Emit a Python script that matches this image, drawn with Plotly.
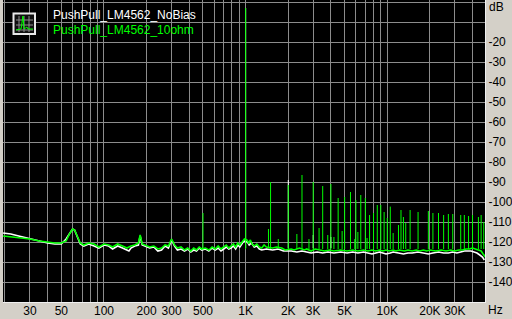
import plotly.graph_objects as go

# ---------------- data ----------------
green_floor_f = [19.4, 22, 25, 30, 35, 40, 45, 50, 54, 57, 60, 62, 65, 68, 72, 78, 85, 92, 100, 108, 115, 125, 135, 145,
                 155, 165, 175, 180, 186, 195, 210, 225, 240, 255, 270, 285, 300, 315, 330, 350, 370, 390, 410, 430,
                 450, 470, 490, 520, 550, 580, 610, 640, 670, 700, 730, 760, 790, 820, 850, 880, 910, 940, 960, 980,
                 1020, 1050, 1080, 1110, 1150, 1200, 1250, 1300, 1350, 1400, 1550, 1650, 1800, 1900, 2100, 2200,
                 2400, 2600, 2700, 2900, 3100, 3300, 3600, 3900, 4200, 4700, 5200, 5700, 6200, 6800, 7300, 7800,
                 8300, 8800, 9300, 9800, 10300, 11000, 11500, 12200, 13200, 14000, 15000, 16000, 17000, 18000,
                 19000, 20000, 22000, 24000, 26000, 28000, 30000, 32000, 34000, 36000, 38000, 40000, 42000, 44000,
                 46000, 47500, 49000, 50000]
green_floor_db = [-117, -117.5, -118, -118.5, -119.5, -120, -120.5, -120.5, -119.5, -116, -113.5, -114, -117.5, -120.5,
                  -121.5, -120.5, -121, -122.5, -121, -121.5, -122.5, -121, -122, -123, -122, -121.5, -120.5, -116.5,
                  -121, -121.5, -122.5, -122, -123.5, -123, -121.5, -122, -118.5, -121.5, -123, -122.5, -124, -123,
                  -124.5, -123, -124, -122.5, -123.5, -123, -124, -122.5, -123.5, -122, -123.5, -122.5, -121.5, -123,
                  -122, -121, -122.5, -120.5, -121.5, -120, -119, -118.5, -119, -120.5, -119, -121, -122, -121,
                  -122.5, -123, -121.5, -122.5, -123, -122.5, -123, -124, -123.5, -124, -123, -124, -123.5, -124.5,
                  -123.5, -124, -124.5, -124, -124.5, -124, -124.5, -124, -124.5, -124, -124.5, -124, -124.5, -124,
                  -124.5, -124, -124.5, -124, -124.5, -124, -124.5, -124, -124.5, -124, -124.5, -124, -124.5, -124,
                  -124.5, -124, -124.5, -124, -124.5, -124, -124, -123.5, -123.5, -123, -123.5, -124, -124.5, -126,
                  -127.5, -128]

white_floor_f = [19.4, 22, 25, 30, 35, 40, 45, 50, 54, 57, 60, 62, 65, 68, 72, 78, 85, 92, 100, 108, 115, 125, 135, 145,
                 150, 155, 165, 175, 180, 186, 195, 210, 225, 240, 255, 270, 285, 300, 315, 330, 350, 370, 390, 410,
                 430, 450, 470, 490, 520, 550, 580, 610, 640, 670, 700, 730, 760, 790, 820, 850, 880, 910, 940, 970,
                 1030, 1060, 1100, 1150, 1200, 1250, 1300, 1400, 1550, 1700, 1850, 2100, 2300, 2500, 2700, 2900,
                 3200, 3500, 3800, 4200, 4700, 5200, 5700, 6200, 6800, 7300, 7800, 8300, 8800, 9300, 9800, 10500,
                 11000, 12000, 13000, 14000, 15000, 16500, 18000, 19500, 21000, 23000, 25000, 27000, 29000, 31000,
                 33000, 35000, 37000, 39000, 41000, 43000, 45000, 47000, 48500, 50000]
white_floor_db = [-115.5, -116, -117, -118.5, -119.5, -120.5, -121, -121, -118.5, -116, -113.5, -114, -118, -121, -122,
                  -121, -122, -123, -121.5, -122, -123.5, -122, -123, -124, -124.5, -123, -122, -121.5, -117, -121.5,
                  -122, -123, -122.5, -124.5, -124, -122, -123, -119, -122, -124, -123.5, -124.5, -123.5, -125, -124,
                  -124.5, -123, -124, -123.5, -124.5, -123, -124, -123, -124.5, -123.5, -122.5, -123.5, -123, -122,
                  -123.5, -121.5, -122.5, -121, -119.5, -120, -121.5, -120.5, -122.5, -122, -123.5, -124, -123.5,
                  -124, -123.5, -124.5, -124.5, -125, -124.5, -125, -125.5, -125, -125.5, -125, -125.5, -125, -125.5,
                  -125, -125.5, -125, -125.5, -126, -125.5, -125, -125.5, -126, -125.5, -125, -125.5, -126, -125.5,
                  -125.5, -125, -125.5, -126, -125.5, -125, -125.5, -125.5, -125, -125.5, -125, -124.5, -124.5,
                  -124.5, -125, -125.5, -126.5, -127.5, -129]

green_spike_f = [500, 1000, 1450, 1500, 1700, 2000, 2300, 2500, 2800, 3000, 3300, 3500, 3800, 4000, 4200, 4500, 4800,
                 5000, 5500, 5900, 6000, 6200, 6500, 7000, 7200, 7500, 8000, 8500, 9000, 9500, 10000, 10500, 11000,
                 12000, 12500, 13000, 13500, 14500, 16500, 19500, 21000, 23000, 25000, 27000, 29000, 33000, 35000,
                 37500, 40000, 44000, 46000, 48000]
green_spike_db = [-105.5, -3, -113.5, -90, -118.5, -91.5, -116, -86.5, -118.5, -90, -113, -92, -116.5, -91, -117.5,
                  -98, -114.5, -97.5, -95, -118.5, -99, -115, -96.5, -98, -118, -106.5, -105.5, -101.5, -101.5, -105,
                  -108, -102.3, -115.5, -111.5, -104, -107.5, -110.5, -104, -105, -104.5, -105.5, -105.5, -106.5,
                  -106, -106, -106.5, -106.5, -107, -106.5, -107.5, -106.5, -110]

white_spike_f = [1000, 2000, 3000, 4000]
white_spike_db = [-3, -89, -116.5, -117.5]

x_grid = [20, 30, 40, 50, 60, 70, 80, 90, 100, 200, 300, 400, 500, 600, 700, 800, 900, 1000, 2000, 3000, 4000,
          5000, 6000, 7000, 8000, 9000, 10000, 20000, 30000, 40000]
x_labels = {30: "30", 50: "50", 100: "100", 200: "200", 300: "300", 500: "500", 1000: "1K", 2000: "2K",
            3000: "3K", 5000: "5K", 10000: "10K", 20000: "20K", 30000: "30K"}
y_grid = [0, -10, -20, -30, -40, -50, -60, -70, -80, -90, -100, -110, -120, -130, -140]
y_labels = {v: str(v) for v in y_grid if v <= -20}

WHITE = "#ffffff"
GREEN = "#00ff00"
GRID = "#8c8c8c"
PANEL = "#d4d0c8"
FONT = "Liberation Sans"


def spikes(freqs, tops, base):
    xs, ys = [], []
    for f, t in zip(freqs, tops):
        xs += [f, f, None]
        ys += [base, t, None]
    return xs, ys


fig = go.Figure()
wx, wy = spikes(white_spike_f, white_spike_db, -123)
fig.add_trace(go.Scatter(x=wx, y=wy, mode="lines", line=dict(color=WHITE, width=1), hoverinfo="skip"))
fig.add_trace(go.Scatter(x=white_floor_f, y=white_floor_db, mode="lines", line=dict(color=WHITE, width=1.6)))
gx, gy = spikes(green_spike_f, green_spike_db, -123.5)
fig.add_trace(go.Scatter(x=gx, y=gy, mode="lines", line=dict(color=GREEN, width=1), hoverinfo="skip"))
fig.add_trace(go.Scatter(x=green_floor_f, y=green_floor_db, mode="lines", line=dict(color=GREEN, width=1.6)))

L, R, T, B = 3, 27, 0, 17
W, H = 512, 319
PW, PH = W - L - R, H - T - B


def px(x):
    return (x - L) / PW


def py(y):
    return 1 - (y - T) / PH


# legend icon
fig.add_shape(type="rect", xref="paper", yref="paper", x0=px(13.5), x1=px(35), y0=py(34), y1=py(13.5),
              line=dict(color="#e8e8e8", width=2), fillcolor="#101010")
for gxp in [19, 24, 29]:
    fig.add_shape(type="line", xref="paper", yref="paper", x0=px(gxp), x1=px(gxp), y0=py(32), y1=py(16),
                  line=dict(color=GRID, width=1))
for gyp in [20, 25, 30]:
    fig.add_shape(type="line", xref="paper", yref="paper", x0=px(16), x1=px(33), y0=py(gyp), y1=py(gyp),
                  line=dict(color=GRID, width=1))
fig.add_shape(type="path", xref="paper", yref="paper",
              path=f"M {px(16)},{py(30)} L {px(21)},{py(29)} L {px(23)},{py(16)} L {px(24)},{py(29)} "
                   f"L {px(27)},{py(27)} L {px(28)},{py(29)} L {px(33)},{py(29)}",
              line=dict(color=GREEN, width=1))

fig.add_annotation(text="PushPull_LM4562_NoBias", xref="paper", yref="paper", x=px(51), y=py(15),
                   xanchor="left", yanchor="middle", showarrow=False, font=dict(family=FONT, size=12, color=WHITE))
fig.add_annotation(text="PushPull_LM4562_10ohm", xref="paper", yref="paper", x=px(51), y=py(30),
                   xanchor="left", yanchor="middle", showarrow=False, font=dict(family=FONT, size=12, color=GREEN))
fig.add_annotation(text="dB", xref="paper", yref="paper", x=px(487), y=py(7),
                   xanchor="left", yanchor="middle", showarrow=False, font=dict(family=FONT, size=12, color="black"))
fig.add_annotation(text="Hz", xref="paper", yref="paper", x=px(486), y=py(310),
                   xanchor="left", yanchor="middle", showarrow=False, font=dict(family=FONT, size=12, color="black"))

fig.update_layout(
    width=W, height=H, margin=dict(l=L, r=R, t=T, b=B, pad=0),
    paper_bgcolor=PANEL, plot_bgcolor="black", showlegend=False,
    xaxis=dict(type="log", range=[1.287, 4.69], tickvals=x_grid,
               ticktext=[x_labels.get(v, "") for v in x_grid],
               showgrid=True, gridcolor=GRID, gridwidth=1, zeroline=False, ticks="",
               showline=True, linecolor="#f0f0f0", linewidth=1, mirror=False,
               tickfont=dict(family=FONT, size=12, color="black"), tickangle=0, ticklabelstandoff=-2),
    yaxis=dict(range=[-150, 1], side="right", tickvals=y_grid,
               ticktext=[y_labels.get(v, "") for v in y_grid],
               showgrid=True, gridcolor=GRID, gridwidth=1, zeroline=False, ticks="",
               showline=True, linecolor="#f0f0f0", linewidth=1,
               tickfont=dict(family=FONT, size=12, color="black"), ticklabelstandoff=0),
)

fig.write_html("out.html")
